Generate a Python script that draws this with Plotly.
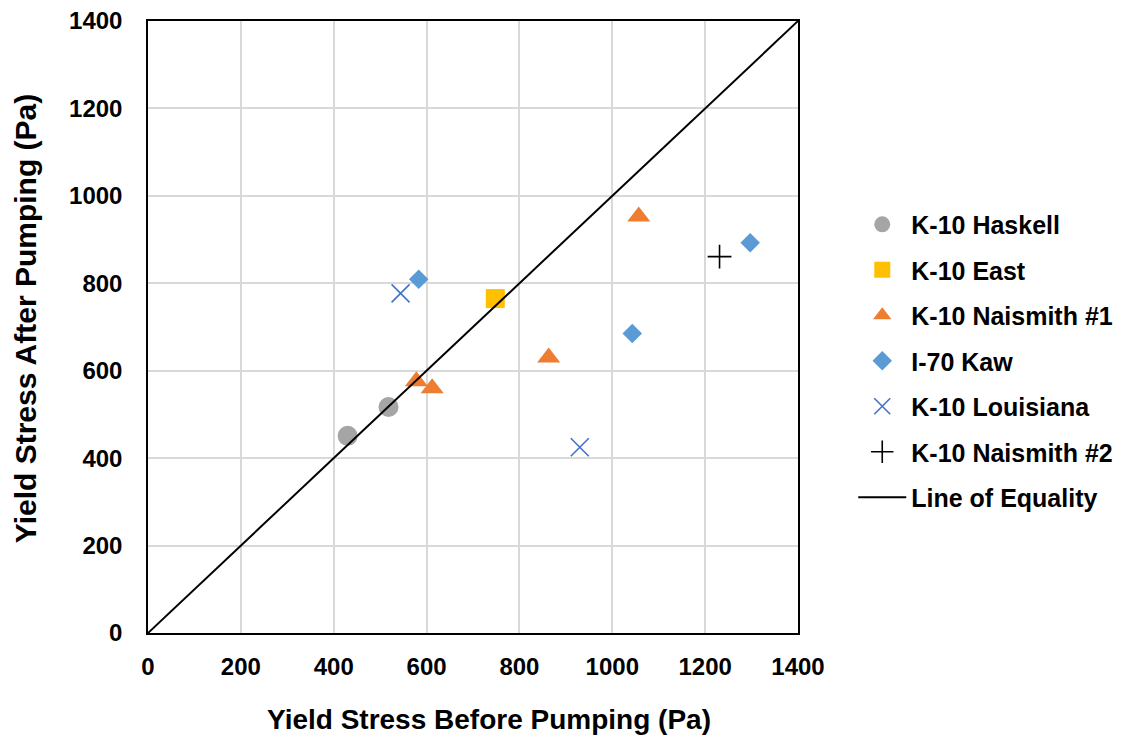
import plotly.graph_objects as go

# Yield stress measurements (Pa): before vs. after pumping
haskell_x = [430, 518]
haskell_y = [451, 517]

east_x = [748]
east_y = [765]

naismith1_x = [578, 612, 863, 1057]
naismith1_y = [576, 560, 630, 953]

kaw_x = [583, 1043, 1297]
kaw_y = [809, 685, 893]

louisiana_x = [544, 930]
louisiana_y = [777, 425]

naismith2_x = [1231]
naismith2_y = [861]

equality = [0, 1400]

tick_vals = [0, 200, 400, 600, 800, 1000, 1200, 1400]

x_title = "Yield Stress Before Pumping (Pa)"
y_title = "Yield Stress After Pumping (Pa)"

font_family = "Liberation Sans, Arial, sans-serif"

fig = go.Figure()

series = [
    ("K-10 Haskell", haskell_x, haskell_y, dict(symbol="circle", size=20, color="#a5a5a5")),
    ("K-10 East", east_x, east_y, dict(symbol="square", size=19, color="#ffc000")),
    ("K-10 Naismith #1", naismith1_x, naismith1_y, dict(symbol="triangle-up", size=20, color="#ed7d31")),
    ("I-70 Kaw", kaw_x, kaw_y, dict(symbol="diamond", size=15, color="#5b9bd5")),
    ("K-10 Louisiana", louisiana_x, louisiana_y,
     dict(symbol="x-thin", size=18, color="#4472c4", line=dict(width=1.6, color="#4472c4"))),
    ("K-10 Naismith #2", naismith2_x, naismith2_y,
     dict(symbol="cross-thin", size=17, color="#000000", line=dict(width=1.6, color="#000000"))),
]

for name, xs, ys, marker in series:
    fig.add_trace(go.Scatter(
        x=xs, y=ys, mode="markers", name=name, marker=marker,
        legendgroup=name, cliponaxis=False,
    ))

fig.add_trace(go.Scatter(
    x=equality, y=equality, mode="lines", name="Line of Equality",
    line=dict(color="#000000", width=2), legendgroup="eq",
))

axis_common = dict(
    range=[0, 1400], tickvals=tick_vals, showgrid=True, gridcolor="#d9d9d9", gridwidth=1.5,
    zeroline=False, showline=True, linecolor="#000000", linewidth=1.5, mirror=True,
    ticks="", automargin=False,
    tickfont=dict(family=font_family, size=24, color="#000000", weight="bold"),
)

fig.update_layout(
    width=1130, height=738,
    margin=dict(l=148, r=332, t=21, b=105),
    paper_bgcolor="white", plot_bgcolor="white",
    font=dict(family=font_family, color="#000000"),
    xaxis=dict(axis_common, ticklabelstandoff=11),
    yaxis=dict(axis_common, ticklabelstandoff=19),
    legend=dict(
        x=1.085, y=0.705, xanchor="left", yanchor="top",
        font=dict(family=font_family, size=25, color="#000000", weight="bold"),
        tracegroupgap=10, itemwidth=48, bgcolor="rgba(0,0,0,0)",
    ),
    showlegend=True,
    annotations=[
        dict(text=x_title, xref="paper", yref="paper", x=(489 - 148) / 650, y=-(720 - 633.5) / 612.5,
             xanchor="center", yanchor="middle", showarrow=False,
             font=dict(family=font_family, size=28, color="#000000", weight="bold")),
        dict(text=y_title, xref="paper", yref="paper", x=-(148 - 25) / 650, y=(633.5 - 318.5) / 612.5,
             xanchor="center", yanchor="middle", showarrow=False, textangle=-90,
             font=dict(family=font_family, size=30, color="#000000", weight="bold")),
    ],
)

fig.write_html("out.html")
